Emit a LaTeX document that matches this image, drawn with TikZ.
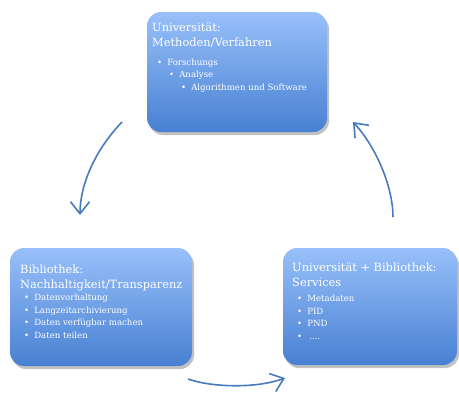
\documentclass[tikz,border=0pt]{standalone}
\usepackage{fontspec}
\setmainfont{DejaVu Serif}
\usetikzlibrary{shadows,arrows.meta}

\definecolor{boxtop}{RGB}{152,192,250}
\definecolor{boxbot}{RGB}{72,128,210}
\definecolor{arrowblue}{RGB}{72,122,192}

\newcommand{\bul}{\textbullet\hspace{5pt}}

\begin{document}
\begin{tikzpicture}[x=1pt,y=-1pt]
    \tikzset{box/.style={rounded corners=14pt, top color=boxtop, bottom color=boxbot, draw=none,
        drop shadow={shadow xshift=2pt, shadow yshift=-3pt, opacity=0.35, fill=black!70}, inner sep=0pt},
      title/.style={text=white, font=\fontsize{11.4}{14.8}\selectfont, align=left, inner sep=0pt, anchor=north west},
      items/.style={text=white, font=\fontsize{8.6}{12.6}\selectfont, align=left, inner sep=0pt, anchor=north west},
      arrow/.style={draw=arrowblue, line width=1.6pt, -{Straight Barb[length=12pt, width=19pt, line width=1.6pt]}}};

    \useasboundingbox (0,0) rectangle (459,392);

    % Top box
    \node [box, minimum width=180pt, minimum height=120pt] (uni) at (237,72) {};
    \node [title] (uniT) at (152,23) {Universität:\\Methoden/Verfahren};
    \node [items] (uniL) at (157,58.5) {\bul Forschungs\\
      \hspace{12pt}\bul Analyse\\
      \hspace{24pt}\bul Algorithmen und Software};

    % Left box
    \node [box, minimum width=182pt, minimum height=118pt] (bib) at (101,307) {};
    \node [title] (bibT) at (20,265) {Bibliothek:\\Nachhaltigkeit/Transparenz};
    \node [items] (bibL) at (24,294) {\bul Datenvorhaltung\\
      \bul Langzeitarchivierung\\
      \bul Daten verfügbar machen\\
      \bul Daten teilen};

    % Right box
    \node [box, minimum width=174pt, minimum height=117pt] (srv) at (370,306.5) {};
    \node [title] (srvT) at (292,263) {Universität + Bibliothek:\\Services};
    \node [items] (srvL) at (297,295) {\bul Metadaten\\
      \bul PID\\
      \bul PND\\
      \bul \hspace{2pt}....};

    % Arrows
    \path (122,122) coordinate (a1s);
    \path (80,215) coordinate (a1e);
    \path (188,379) coordinate (a2s);
    \path (285,378) coordinate (a2e);
    \path (393,217) coordinate (a3s);
    \path (353,122) coordinate (a3e);

    \draw [arrow] (a1s) .. controls (95,150) and (80,185) .. (a1e);
    \draw [arrow] (a2s) .. controls (210,387) and (255,389) .. (a2e);
    \draw [arrow] (a3s) .. controls (393,188) and (377,148) .. (a3e);
  \end{tikzpicture}
\end{document}
